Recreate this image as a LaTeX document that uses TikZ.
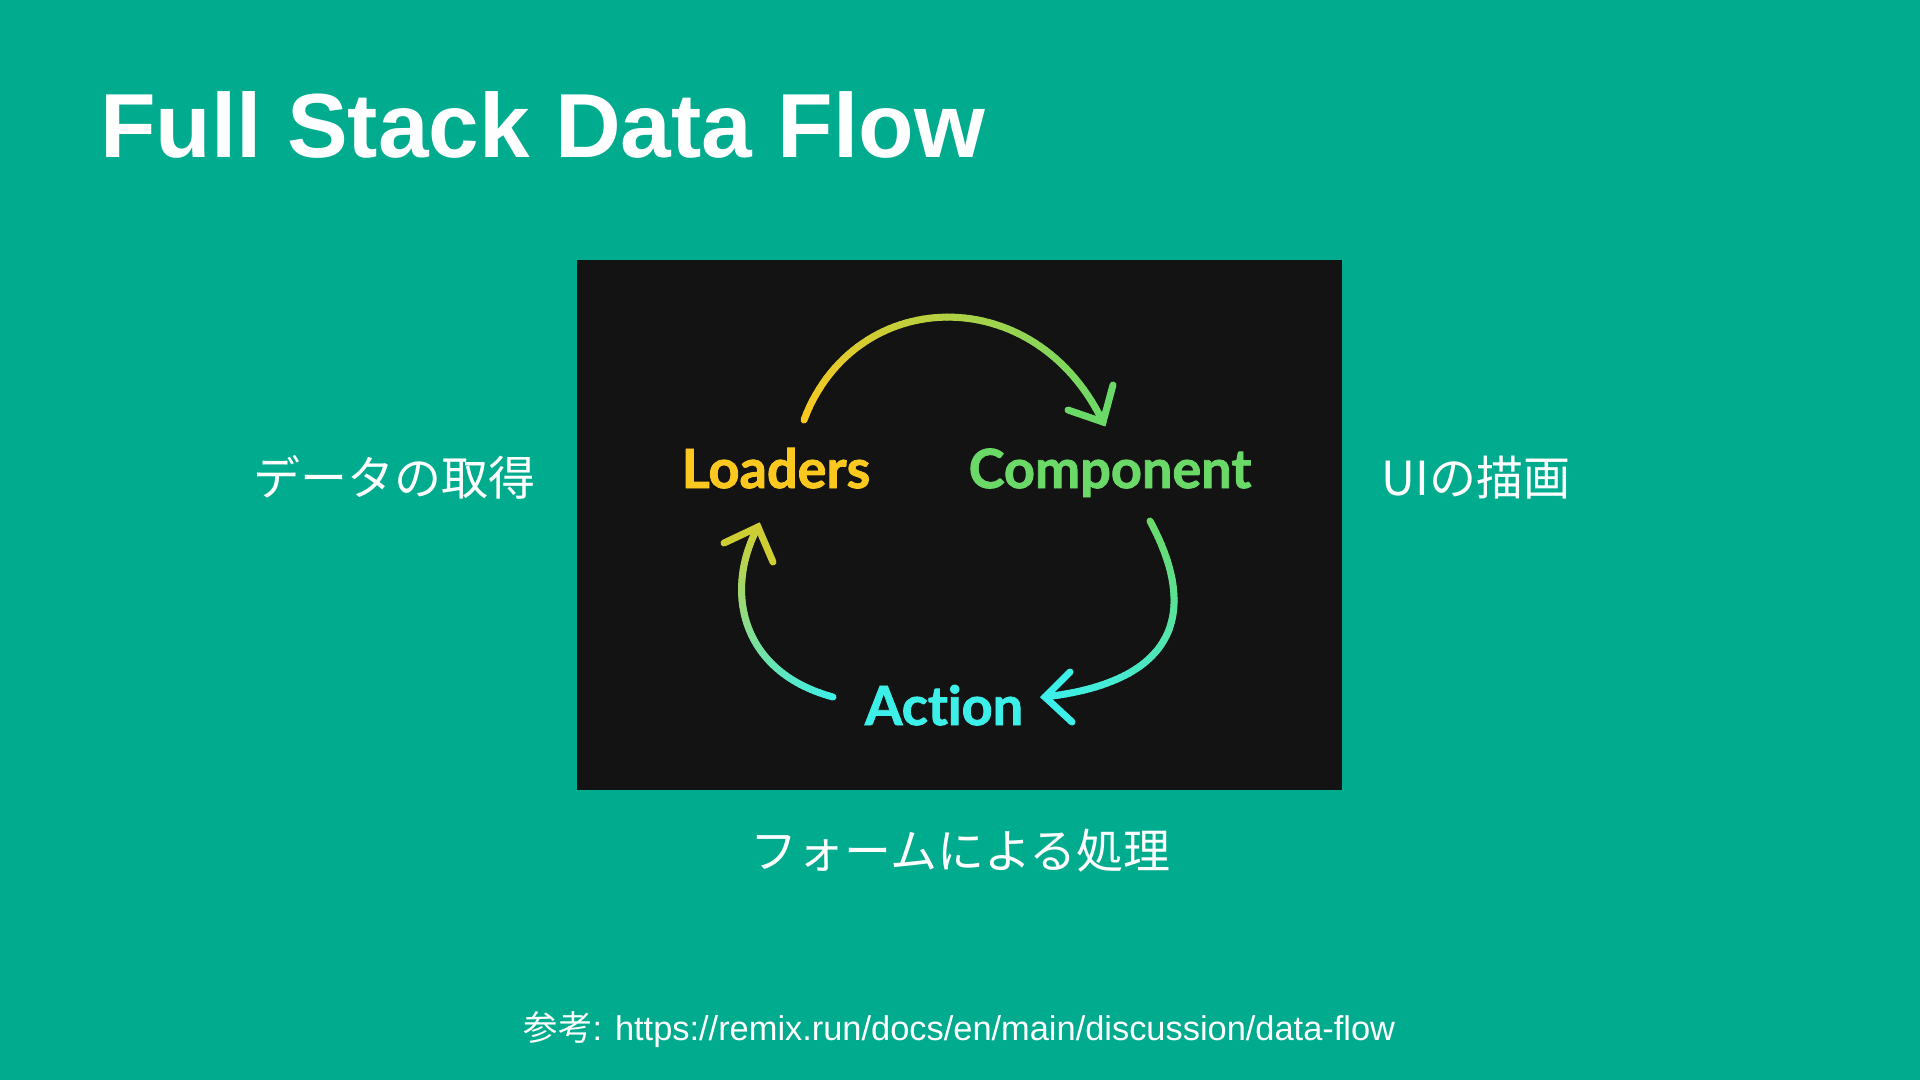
\documentclass[tikz,border=0pt]{standalone}
\usepackage{fontspec}
\setmainfont{Liberation Sans}
\newfontfamily\jpfont{Noto Sans CJK JP}
\newfontfamily\lblfont{Lato}[Ligatures=NoCommon, BoldFeatures={FakeBold=1.6}]
\usetikzlibrary{calc}
\definecolor{bgteal}{RGB}{1,171,142}
\definecolor{boxdark}{RGB}{19,19,19}
\definecolor{rmyellow}{RGB}{250,200,30}
\definecolor{rmgreen}{RGB}{107,217,104}
\definecolor{rmaqua}{RGB}{61,239,233}
\colorlet{tipyg}{rmyellow!70!rmgreen}
\tikzset{
  flowline/.style={line width=7, line cap=round},
  headline/.style={line width=7, line cap=round},
  jptext/.style={text=white, inner sep=0, anchor=base, font=\jpfont\fontsize{47}{52}\selectfont},
  flowlabel/.style={inner sep=0, anchor=base, font=\lblfont\bfseries\fontsize{54}{60}\selectfont},
}
% gradient cubic curve: #1..#4 control coordinates, #5 start colour, #6 end colour
\newcommand\gradarc[6]{%
  \foreach \i in {0,...,59}{%
    \pgfmathsetmacro\ta{\i/60}%
    \pgfmathsetmacro\tb{(\i+1)/60}%
    \pgfmathsetmacro\aa{(1-\ta)^3}%
    \pgfmathsetmacro\ab{3*(1-\ta)^2*\ta}%
    \pgfmathsetmacro\ac{3*(1-\ta)*\ta^2}%
    \pgfmathsetmacro\ad{\ta^3}%
    \pgfmathsetmacro\ba{(1-\tb)^3}%
    \pgfmathsetmacro\bb{3*(1-\tb)^2*\tb}%
    \pgfmathsetmacro\bc{3*(1-\tb)*\tb^2}%
    \pgfmathsetmacro\bd{\tb^3}%
    \pgfmathsetmacro\mixv{100-100*(\i+0.5)/60}%
    \draw[flowline, color=#5!\mixv!#6]
      ($ {\aa}*(#1) + {\ab}*(#2) + {\ac}*(#3) + {\ad}*(#4) $) --
      ($ {\ba}*(#1) + {\bb}*(#2) + {\bc}*(#3) + {\bd}*(#4) $);
  }%
}
\begin{document}
\begin{tikzpicture}[x=1pt,y=-1pt]
  \fill[bgteal] (0,0) rectangle (1920,1080);
  \useasboundingbox (0,0) rectangle (1920,1080);

  \node (title) [anchor=base west, inner sep=0, text=white,
    font=\bfseries\fontsize{91}{100}\selectfont] at (100,157) {Full Stack Data Flow};

  \fill[boxdark] (577,260) rectangle (1342,790);

  \node (loaders) [flowlabel, text=rmyellow] at (776,488) {Loaders};
  \node (component) [flowlabel, text=rmgreen] at (1110,488) {Component};
  \node (action) [flowlabel, text=rmaqua] at (944,725) {Action};

  % top arc: Loaders -> Component
  \coordinate (a0) at (804,420);
  \coordinate (a1) at (855,285);
  \coordinate (a2) at (1035,280);
  \coordinate (a3) at (1103,422);
  \coordinate (ah1) at (1068,410);
  \coordinate (ah2) at (1113,385);
  \gradarc{a0}{a1}{a2}{a3}{rmyellow}{rmgreen}
  \draw[headline, rmgreen] (ah1) -- (a3) -- (ah2);

  % right arc: Component -> Action
  \coordinate (b0) at (1150,521);
  \coordinate (b1) at (1193,600);
  \coordinate (b2) at (1190,680);
  \coordinate (b3) at (1045,697);
  \coordinate (bh1) at (1070,672);
  \coordinate (bh2) at (1072,722);
  \gradarc{b0}{b1}{b2}{b3}{rmgreen}{rmaqua}
  \draw[headline, rmaqua] (bh1) -- (b3) -- (bh2);

  % left arc: Action -> Loaders
  \coordinate (c0) at (833,697);
  \coordinate (c1) at (740,672);
  \coordinate (c2) at (724,590);
  \coordinate (c3) at (758,527);
  \coordinate (ch1) at (724,543);
  \coordinate (ch2) at (773,562);
  \gradarc{c0}{c1}{c2}{c3}{rmaqua}{tipyg}
  \draw[headline, tipyg] (ch1) -- (c3) -- (ch2);

  \node (fetch) [jptext] at (394.5,495) {データの取得};
  \node (render) [jptext] at (1476,495) {UIの描画};
  \node (form) [jptext] at (960.5,868) {フォームによる処理};

  \node (ref) [anchor=base, inner sep=0, text=white, font=\fontsize{34.4}{38}\selectfont]
    at (959.5,1040) {{\jpfont 参考}: https://remix.run/docs/en/main/discussion/data-flow};
\end{tikzpicture}
\end{document}
